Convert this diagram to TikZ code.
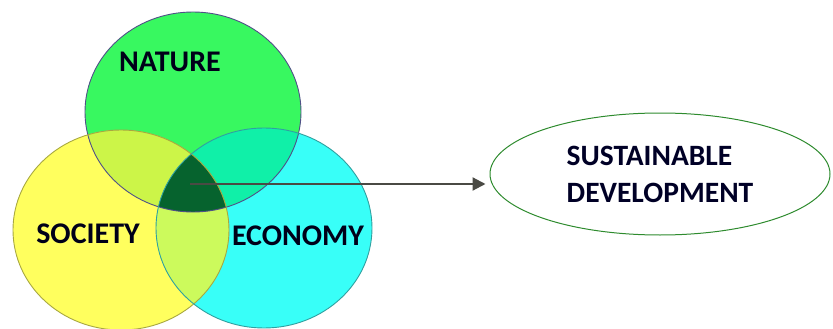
\documentclass[tikz,border=0pt]{standalone}
\usepackage{fontspec}
\setmainfont{Carlito}
\usetikzlibrary{shapes.geometric,arrows.meta}
\definecolor{natcol}{HTML}{38F860}
\definecolor{soccol}{HTML}{FFFF5E}
\definecolor{ecocol}{HTML}{38FFF8}
\definecolor{nscol}{HTML}{CCF548}
\definecolor{necol}{HTML}{10F0A8}
\definecolor{secol}{HTML}{CCFA5C}
\definecolor{corecol}{HTML}{06632E}
\definecolor{natline}{HTML}{505088}
\definecolor{socline}{HTML}{A8A840}
\definecolor{ecoline}{HTML}{30A0A0}
\definecolor{sdline}{HTML}{2E8B2E}
\definecolor{arrcol}{HTML}{4A4A44}
\tikzset{
  lbl/.style={font=\bfseries\fontsize{30}{33}\selectfont, text=black!90!blue},
  sdbox/.style={draw=sdline, line width=1pt, ellipse, minimum width=340pt, minimum height=122pt, align=left, inner sep=0pt,
    font=\bfseries\fontsize{29.5}{37}\selectfont, text=black!85!blue},
  conn/.style={draw=arrcol, line width=2.2pt, -{Triangle[length=13pt,width=13pt]}}
}
\begin{document}
\begin{tikzpicture}[x=1pt,y=-1pt]
\useasboundingbox (0,0) rectangle (833,329);
\def\natP{(193,112) ellipse [x radius=108, y radius=100]}
\def\socP{(121,230) ellipse [x radius=108, y radius=100]}
\def\ecoP{(264,228) ellipse [x radius=108, y radius=100]}
\fill[natcol] \natP;
\fill[soccol] \socP;
\fill[ecocol] \ecoP;
\begin{scope}\clip \natP; \fill[nscol] \socP; \end{scope}
\begin{scope}\clip \natP; \fill[necol] \ecoP; \end{scope}
\begin{scope}\clip \socP; \fill[secol] \ecoP; \end{scope}
\begin{scope}\clip \natP; \clip \socP; \fill[corecol] \ecoP; \end{scope}
\draw[natline, line width=0.9pt] \natP;
\draw[socline, line width=0.9pt] \socP;
\draw[ecoline, line width=0.9pt] \ecoP;
\node[lbl] (nat) at (170,62) {NATURE};
\node[lbl] (soc) at (88,234) {SOCIETY};
\node[lbl] (eco) at (298,236) {ECONOMY};
\node[sdbox] (sd) at (660,174) {SUSTAINABLE\\DEVELOPMENT};
\coordinate (core) at (190,184);
\draw[conn] (core) -- ([xshift=-4pt]core -| sd.west);
\end{tikzpicture}
\end{document}
